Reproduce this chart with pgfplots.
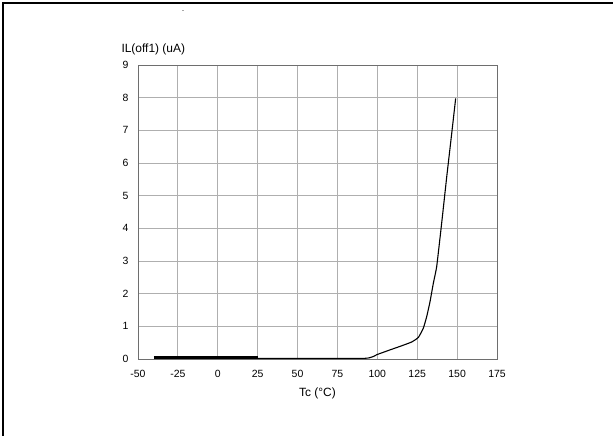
\documentclass[border=0pt]{standalone}
\usepackage{pgfplots}
\pgfplotsset{compat=1.18}
\usepackage{fontspec}
\setmainfont{Liberation Sans}

\definecolor{gridgray}{RGB}{175,175,175}
\definecolor{framegray}{RGB}{110,110,110}

\begin{document}
\begin{tikzpicture}
    % page frame (top and left edges only)
    \useasboundingbox (0bp,0bp) rectangle (613bp,436bp);
    \draw[line width=2bp] (3bp,0bp) -- (3bp,433bp) -- (613bp,433bp);
    \node[font=\fontsize{6}{6}\selectfont] at (183bp,424bp) {-};

    \begin{axis}[
        at={(138bp,77bp)}, anchor=south west,
        scale only axis,
        width=359bp, height=294bp,
        xmin=-50, xmax=175,
        ymin=0, ymax=9,
        xtick={-50,-25,...,175},
        ytick={0,1,...,9},
        grid=major,
        major grid style={gridgray, line width=0.8pt},
        axis line style={framegray, line width=0.9pt},
        major tick length=0pt,
        tick label style={font=\fontsize{10.5}{12}\selectfont},
        /pgf/number format/assume math mode=true,
        xticklabel style={yshift=-8bp},
        yticklabel style={xshift=-6bp},
        xlabel={Tc (°C)},
        ylabel={IL(off1) (uA)},
        every axis x label/.style={at={(rel axis cs:0.5,0)}, anchor=base, yshift=-38bp, font=\fontsize{12}{14}\selectfont},
        every axis y label/.style={at={(rel axis cs:0,1)}, anchor=base west, xshift=-20bp, yshift=13bp, font=\fontsize{12}{14}\selectfont},
    ]

    % flat region, drawn heavy
    \addplot[black, line width=2.4bp] coordinates {
        (-40, 0.05)
        (25, 0.05)
    };

    \addplot[black, line width=1.1bp, smooth, tension=0.25] coordinates {
        (25, 0.02)
        (92, 0.02)
        (100, 0.14)
        (108, 0.28)
        (115, 0.40)
        (121.5, 0.52)
        (125.7, 0.66)
        (128.8, 0.94)
        (130.9, 1.29)
        (133, 1.75)
        (135.1, 2.32)
        (137.2, 2.83)
        (140.3, 4.15)
        (143.5, 5.58)
        (146.6, 6.90)
        (149.1, 7.98)
    };

    \end{axis}
\end{tikzpicture}
\end{document}
